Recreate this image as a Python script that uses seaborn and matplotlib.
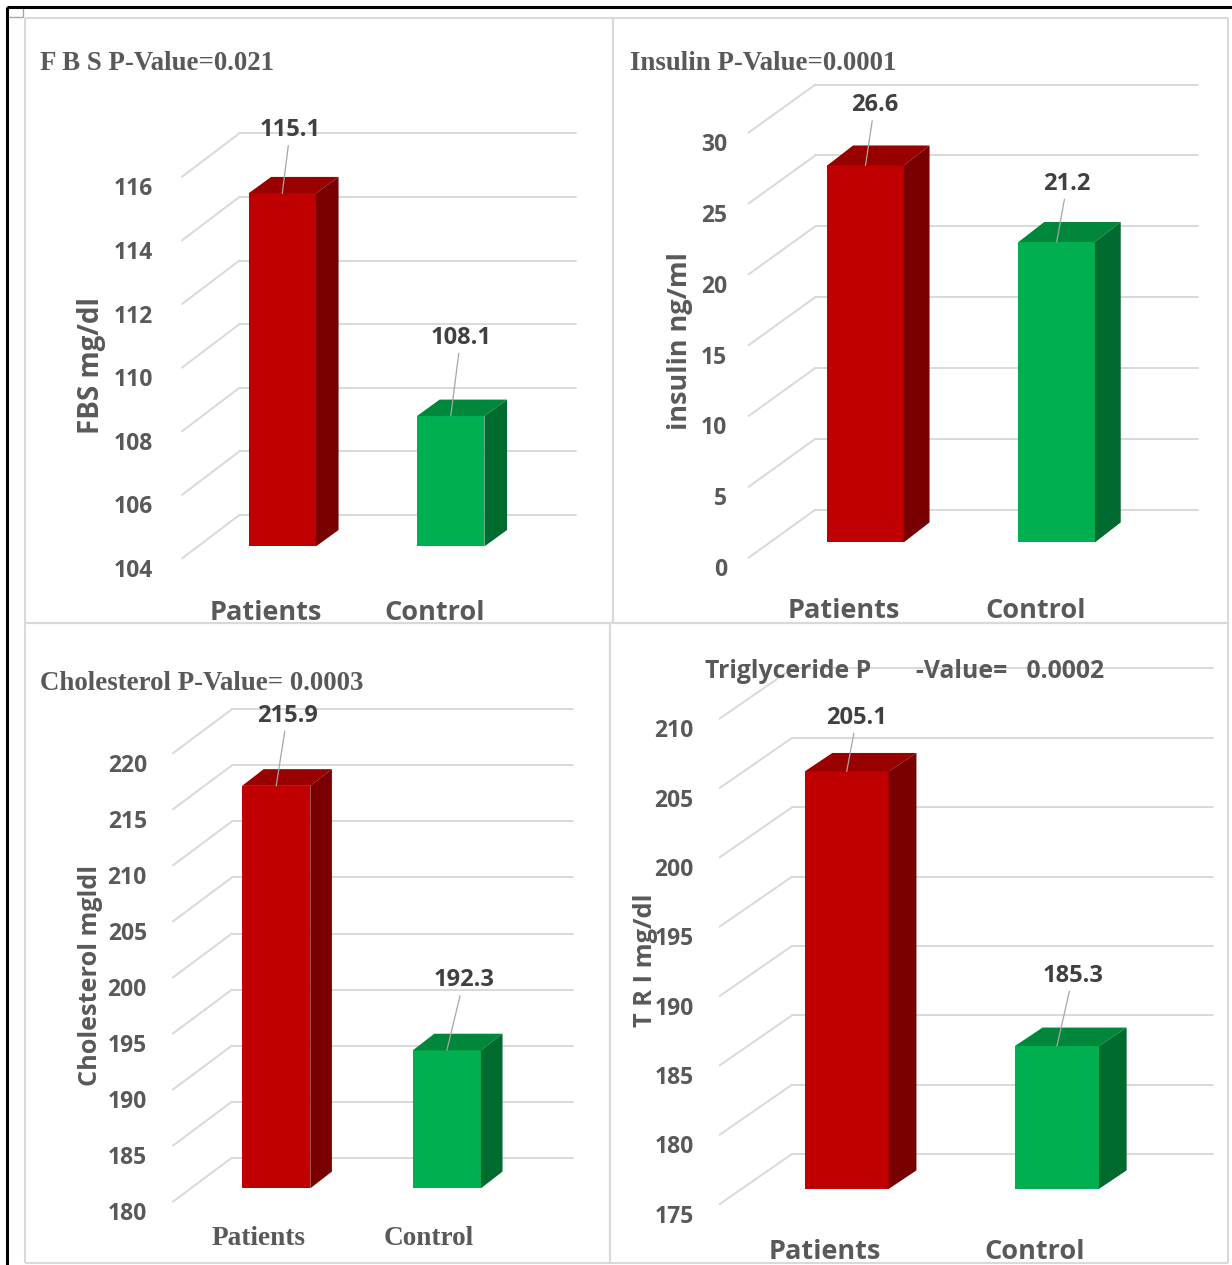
import matplotlib
matplotlib.use("Agg")
import matplotlib.pyplot as plt
import pandas as pd
import seaborn as sns
from matplotlib.lines import Line2D
from matplotlib.patches import Polygon, Rectangle
from matplotlib.transforms import ScaledTranslation

# ---------------------------------------------------------------- data
groups = ["Patients", "Control"]

fbs_values = [115.1, 108.1]
insulin_values = [26.6, 21.2]
cholesterol_values = [215.9, 192.3]
triglyceride_values = [205.1, 185.3]

fbs_ticks = [104, 106, 108, 110, 112, 114, 116]
insulin_ticks = [0, 5, 10, 15, 20, 25, 30]
cholesterol_ticks = [180, 185, 190, 195, 200, 205, 210, 215, 220]
triglyceride_ticks = [175, 180, 185, 190, 195, 200, 205, 210]

titles = [
    "F B S P-Value=0.021",
    "Insulin P-Value=0.0001",
    "Cholesterol P-Value= 0.0003",
    "Triglyceride P       -Value=   0.0002",
]
y_labels = ["FBS mg/dl", "insulin ng/ml", "Cholesterol mgldl", "T R I mg/dl"]

# ---------------------------------------------------------------- style
W, H = 1232, 1265
DPI = 100

RED = ("#C00000", "#990000", "#780000")      # front, top, side
GREEN = ("#00B050", "#00873B", "#006B2E")
GRID = "#D9D9D9"
TXT = "#595959"
VAL = "#404040"
SANS = ["Open Sans", "DejaVu Sans"]
SERIF = ["Liberation Serif", "DejaVu Serif"]

sns.set_style("white")
plt.rcParams["font.family"] = SANS

# Layout of each chart in pixels: front plane (left, right, bottom, top tick),
# back-wall offset, bar shift from the front plane, bar depth.
panels = [
    dict(values=fbs_values, ticks=fbs_ticks, box=(182, 519, 558.5, 176.8),
         back=(57.3, 43.4), shift=(16, 12.1), depth=(22.6, 16.4),
         tickpad=29, xpad=41, xfont=SANS, xsize=19.5,
         ylab=(91.3, 366), ysize=20, title=(39.5, 64), tfont=SERIF, tsize=19.4,
         lab_off=[(8, 63), (10, 78)]),
    dict(values=insulin_values, ticks=insulin_ticks, box=(748.6, 1131, 557.7, 132.6),
         back=(66.7, 48), shift=(21.3, 15.3), depth=(25.8, 20),
         tickpad=21.6, xpad=40, xfont=SANS, xsize=19.5,
         ylab=(680.4, 341), ysize=19.5, title=(629.8, 64), tfont=SERIF, tsize=19.4,
         lab_off=[(9, 60), (10.5, 58)]),
    dict(values=cholesterol_values, ticks=cholesterol_ticks, box=(172.9, 514.1, 1201.7, 753.3),
         back=(59, 44), shift=(18, 13.4), depth=(21.6, 16.7),
         tickpad=26, xpad=24, xfont=SERIF, xsize=19.6,
         ylab=(90.4, 975), ysize=18.2, title=(39.5, 684), tfont=SERIF, tsize=19.4,
         lab_off=[(11, 70), (17, 70)]),
    dict(values=triglyceride_values, ticks=triglyceride_ticks, box=(719.6, 1140, 1204.1, 718.7),
         back=(72.6, 50.2), shift=(22, 15.2), depth=(27.7, 18.5),
         tickpad=26, xpad=35, xfont=SANS, xsize=19.5,
         ylab=(645.7, 960), ysize=18.3, title=(705.2, 671), tfont=SANS, tsize=17.8,
         lab_off=[(10, 53.5), (16, 70)]),
]

fig = plt.figure(figsize=(W / DPI, H / DPI), dpi=DPI)
fig.patch.set_facecolor("white")


def fig_line(x0, y0, x1, y1, color, lw):
    fig.add_artist(Line2D([x0 / W, x1 / W], [1 - y0 / H, 1 - y1 / H],
                          transform=fig.transFigure, color=color, lw=lw,
                          solid_capstyle="butt"))


# outer frame and chart borders
for (x0, y0, x1, y1) in [(25, 18, 613, 623), (613, 18, 1228, 623),
                         (25, 623, 610, 1263), (610, 623, 1228, 1263)]:
    fig_line(x0, y0, x1, y0, GRID, 1.5)
    fig_line(x0, y1, x1, y1, GRID, 1.5)
    fig_line(x0, y0, x0, y1, GRID, 1.5)
    fig_line(x1, y0, x1, y1, GRID, 1.5)
fig_line(7, 7, 1232, 7, "black", 2.2)
fig_line(7, 7, 7, 1265, "black", 2.2)
fig.add_artist(Rectangle((7 / W, 1 - 17 / H), 16 / W, 10 / H, transform=fig.transFigure,
                         fill=False, edgecolor="#A6A6A6", lw=1))


def shifted(ax, x, y, dx, dy):
    """Move a data point by (dx, dy) display pixels and return data coords."""
    X, Y = ax.transData.transform((x, y))
    return tuple(ax.transData.inverted().transform((X + dx, Y + dy)))


for spec, title, ylab in zip(panels, titles, y_labels):
    left, right, ybot, ytop = spec["box"]
    ticks = spec["ticks"]
    ax = fig.add_axes([left / W, 1 - ybot / H, (right - left) / W, (ybot - ytop) / H])
    ax.set_facecolor("none")

    df = pd.DataFrame({"group": groups, "value": spec["values"]})
    sns.barplot(data=df, x="group", y="value", hue="group",
                palette=[RED[0], GREEN[0]], width=0.4, saturation=1,
                legend=False, ax=ax, zorder=3)

    ax.set_xlim(-0.5, 1.5)
    ax.set_ylim(ticks[0], ticks[-1])
    ax.set_yticks(ticks)
    ax.set_xlabel("")
    for s in ax.spines.values():
        s.set_visible(False)

    floor = ticks[0]
    bdx, bdy = spec["back"]
    # back wall gridlines and side wall diagonals
    for v in ticks:
        xa, ya = shifted(ax, -0.5, v, bdx, bdy)
        xb, yb = shifted(ax, 1.5, v, bdx, bdy)
        ax.add_line(Line2D([xa, xb], [ya, yb], color=GRID, lw=1.4, zorder=0.5, clip_on=False))
        ax.add_line(Line2D([-0.5, xa], [v, ya], color=GRID, lw=1.4, zorder=0.5, clip_on=False))

    # extruded bars
    sdx, sdy = spec["shift"]
    ddx, ddy = spec["depth"]
    bars = sorted(ax.patches, key=lambda p: p.get_x())
    for p, shades, off in zip(bars, [RED, GREEN], spec["lab_off"]):
        value = p.get_height()
        x0, y0 = shifted(ax, p.get_x(), floor, sdx, sdy)
        x1, y1 = shifted(ax, p.get_x() + p.get_width(), value, sdx, sdy)
        p.set_x(x0)
        p.set_y(y0)
        p.set_width(x1 - x0)
        p.set_height(y1 - y0)
        p.set_edgecolor("none")
        p.set_clip_on(False)
        tx0, ty1 = shifted(ax, x0, y1, ddx, ddy)
        tx1, _ = shifted(ax, x1, y1, ddx, ddy)
        _, by0 = shifted(ax, x1, y0, ddx, ddy)
        ax.add_patch(Polygon([(x0, y1), (x1, y1), (tx1, ty1), (tx0, ty1)],
                             closed=True, facecolor=shades[1], edgecolor="none",
                             zorder=3, clip_on=False))
        ax.add_patch(Polygon([(x1, y0), (x1, y1), (tx1, ty1), (tx1, by0)],
                             closed=True, facecolor=shades[2], edgecolor="none",
                             zorder=3, clip_on=False))
        ax.annotate(f"{value:.1f}", xy=((x0 + x1) / 2, y1), xytext=off,
                    textcoords="offset pixels", ha="center", va="center",
                    fontsize=17, fontweight="bold", color=VAL, zorder=5,
                    annotation_clip=False,
                    arrowprops=dict(arrowstyle="-", color="#A6A6A6", lw=0.9,
                                    shrinkA=0, shrinkB=0))

    # axis text
    ax.tick_params(axis="both", length=0)
    ax.tick_params(axis="y", pad=spec["tickpad"] * 0.72, labelsize=16.5,
                   labelcolor=TXT)
    ax.tick_params(axis="x", pad=spec["xpad"] * 0.72, labelsize=spec["xsize"],
                   labelcolor=TXT, labelfontfamily=spec["xfont"])
    for lbl in ax.get_yticklabels():
        lbl.set_fontweight("bold")
        lbl.set_transform(lbl.get_transform()
                          + ScaledTranslation(0, -9.5 / DPI, fig.dpi_scale_trans))
    for lbl in ax.get_xticklabels():
        lbl.set_fontweight("bold")

    ax.set_ylabel(ylab, fontsize=spec["ysize"], fontweight="bold", color=TXT)
    lx, ly = ax.transAxes.inverted().transform((spec["ylab"][0], H - spec["ylab"][1]))
    ax.yaxis.set_label_coords(lx, ly)
    ax.yaxis.label.set_va("center")

    tx, ty = spec["title"]
    fig.text(tx / W, 1 - ty / H, title, ha="left", va="center",
             family=spec["tfont"], fontweight="bold", fontsize=spec["tsize"],
             color=TXT)

fig.savefig("out.png", dpi=DPI, facecolor="white")
